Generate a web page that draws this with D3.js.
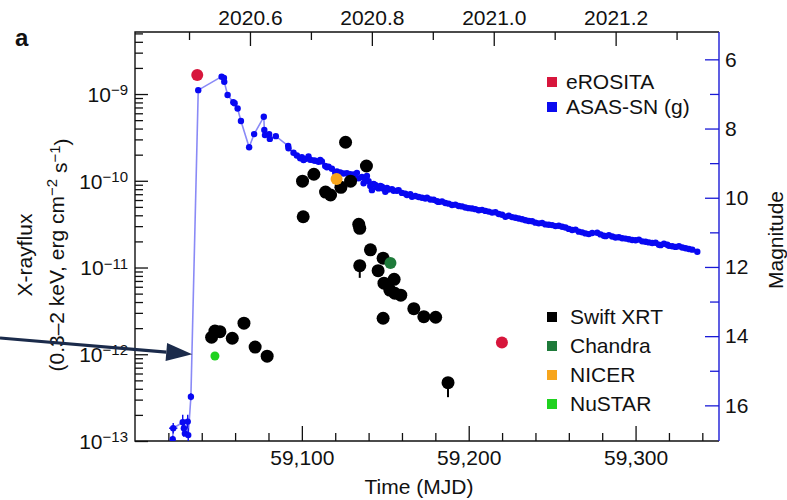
<!DOCTYPE html>
<html><head><meta charset="utf-8">
<script src="https://cdn.jsdelivr.net/npm/d3@7"></script>
<style>
body{margin:0;background:#fff}
text{font-family:"Liberation Sans", Arial, Helvetica, sans-serif;fill:#111}
</style>
</head><body>
<svg id="chart" width="787" height="500"></svg>
<script>
// ---------------- DATA ----------------
// ASAS-SN g-band light curve: [MJD, magnitude]
const asassn = [
 [59022.6,16.98],[59022.9,16.66],[59028.6,16.49],[59029.3,16.66],[59029.9,16.81],[59031.6,16.47],[59031.9,16.86],[59033.5,15.75],
 [59037.9,6.89],[59051.9,6.50],[59053.3,6.54],[59053.5,6.65],[59055.5,7.03],[59058.9,7.24],[59059.7,7.27],[59061.5,7.42],
 [59063.5,7.78],[59068.4,8.54],[59071.4,8.16],[59077.2,7.66],[59077.5,8.04],[59077.9,8.19],[59080.4,8.16],[59080.8,8.30],
 [59084.4,8.22],[59091.8,8.50],[59092.0,8.57],[59095,8.70],[59097,8.78],[59099,8.86],[59100,8.83],[59101,8.91],[59102,8.88],
 [59104,8.81],[59105,8.90],[59107,8.92],[59108,8.93],[59110,8.96],[59111,8.91],[59112,8.95],[59114,9.08],[59115,9.12],
 [59116,9.10],[59118,9.16],[59120,9.28],[59121,9.24],[59123,9.27],[59125,9.30],[59127,9.29],[59129,9.32],[59130,9.36],
 [59131,9.33],[59133,9.28],[59134,9.44],[59136,9.40],[59137,9.58],[59138,9.46],[59139,9.37],[59140,9.52],[59141,9.66],
 [59142,9.78],[59143,9.60],[59144,9.63],[59145,9.70],[59146,9.73],[59147,9.66],[59148,9.68],[59149,9.74],[59150,9.83],
 [59151,9.72],[59152,9.76],[59154,9.75],[59155,9.80],[59157,9.80],[59158,9.78],[59160,9.86],[59162,9.88],[59163,9.92],
 [59165,9.90],[59166,9.97],[59168,9.95],[59170,9.98],[59172,10.00],[59174,10.02],[59175,10.00],[59177,10.05],[59179,10.06],
 [59181,10.10],[59182,10.12],[59184,10.11],[59186,10.15],[59188,10.17],[59190,10.21],[59192,10.20],[59194,10.24],[59196,10.25],
 [59198,10.28],[59200,10.30],[59202,10.31],[59204,10.33],[59206,10.36],[59208,10.35],[59210,10.38],[59212,10.40],[59214,10.43],
 [59216,10.42],[59218,10.47],[59220,10.49],[59222,10.55],[59224,10.52],[59226,10.56],[59228,10.58],[59230,10.60],[59232,10.62],
 [59234,10.65],[59236,10.67],[59238,10.68],[59240,10.72],[59242,10.74],[59244,10.73],[59246,10.77],[59248,10.78],[59250,10.79],
 [59252,10.82],[59254,10.81],[59256,10.84],[59258,10.86],[59260,10.90],[59262,10.93],[59264,10.92],[59266,10.98],[59268,11.00],
 [59270,11.03],[59272,11.05],[59274,11.02],[59277,11.01],[59279,11.06],[59281,11.10],[59282,11.11],[59284,11.08],[59286,11.12],
 [59288,11.15],[59290,11.14],[59292,11.17],[59294,11.18],[59296,11.20],[59298,11.22],[59300,11.23],[59302,11.21],[59304,11.26],
 [59306,11.27],[59308,11.29],[59310,11.31],[59312,11.30],[59314,11.36],[59315,11.37],[59317,11.33],[59319,11.36],[59320,11.39],
 [59322,11.40],[59324,11.42],[59326,11.40],[59328,11.44],[59330,11.46],[59332,11.48],[59334,11.50],[59337,11.56]
];
// early ASAS-SN error bars: [MJD, mag, MJD error, mag error]
const asassnErr = [[59022.9,16.66,2.5,0.15],[59022.6,16.98,0,0.1],[59028.6,16.49,0,0.22],[59029.3,16.66,0,0.25],
 [59031.6,16.47,0,0.2],[59031.9,16.86,0,0.2],[59033.5,15.75,0,0.1]];

// X-ray fluxes: [MJD, flux erg/cm2/s]
const swiftXRT = [
 [59045.9,1.57e-12],[59047.9,1.85e-12],[59050.9,1.82e-12],[59058.3,1.53e-12],[59065.3,2.28e-12],[59072.0,1.21e-12],
 [59079.2,9.5e-13],[59100.4,9.9e-11],[59100.8,3.85e-11],[59107.2,1.19e-10],[59114.2,7.4e-11],[59117.2,6.85e-11],
 [59123.4,8.4e-11],[59126.2,2.78e-10],[59129.2,9.9e-11],[59134.1,3.15e-11],[59134.7,2.83e-11],[59134.7,1.05e-11],
 [59138.7,1.48e-10],[59141.1,1.6e-11],[59145.7,9.2e-12],[59148.7,1.28e-11],[59149.2,6.6e-12],[59152.7,5.5e-12],
 [59155.3,7.3e-12],[59155.7,5.05e-12],[59159.3,4.8e-12],[59148.7,2.6e-12],[59167.1,3.35e-12],[59173.1,2.71e-12],
 [59180.2,2.67e-12],[59187.6,4.7e-13]
];
// Swift points with lower error bars: [MJD, flux, lower flux]
const swiftErr = [[59134.7,1.05e-11,7.6e-12],[59187.6,4.7e-13,3.2e-13]];
const erosita = [[59037.3,1.66e-9],[59219.9,1.37e-12]];
const chandra = [[59153.1,1.13e-11]];
const nicer = [[59120.8,1.05e-10]];
const nustar = [[59047.9,9.55e-13]];

// axes ticks
const fluxExps = [-13,-12,-11,-10,-9];
const magTicks = [6,8,10,12,14,16];
const magMinor = [7,9,11,13,15];
const mjdTicks = [59100,59200,59300];
const mjdMinor = [59020,59040,59060,59080,59120,59140,59160,59180,59220,59240,59260,59280,59320,59340];
const yearTicks = [2020.6,2020.8,2021.0,2021.2];
const yearMinor = [2020.5,2020.7,2020.9,2021.1,2021.3];

const legend1 = [["eROSITA","#d7163c"],["ASAS-SN (g)","#0b0bef"]];
const legend2 = [["Swift XRT","#000000"],["Chandra","#1e7a3a"],["NICER","#f7a51c"],["NuSTAR","#1fd21f"]];

// ---------------- CHART ----------------
const svg = d3.select("#chart");
const L=135, R=719, T=32, B=441;
const mjdDomain=[59000,59350];
const x = d3.scaleLinear().domain(mjdDomain).range([L,R]);
const y = d3.scaleLog().domain([1e-13,5.19e-9]).range([B,T]);
const yMag = d3.scaleLinear().domain([17.03,5.21]).range([B,T]);
const yearOf = m => 2021 + (m-59215)/365.25;
const xYear = d3.scaleLinear().domain(mjdDomain.map(yearOf)).range([L,R]);

const blue="#1a1ad6";
const fs=21;

// minor left ticks
const fluxMinor=[];
fluxExps.forEach(e=>{for(let k=2;k<=9;k++){const v=k*Math.pow(10,e); if(v<=5.19e-9) fluxMinor.push(v);}});

function styleAxis(g,color){
  g.select(".domain").remove();
  g.selectAll(".tick line").attr("stroke",color).attr("stroke-width",1.3);
  g.selectAll(".tick text").style("font-size",fs+"px").attr("fill","#111");
}

// bottom axis
const gb=svg.append("g").attr("transform",`translate(0,${B})`)
  .call(d3.axisBottom(x).tickValues(mjdTicks).tickFormat(d3.format(",")).tickSizeInner(-15).tickSizeOuter(0).tickPadding(9));
styleAxis(gb,"#111");
const gbm=svg.append("g").attr("transform",`translate(0,${B})`)
  .call(d3.axisBottom(x).tickValues(mjdMinor).tickFormat("").tickSizeInner(-8).tickSizeOuter(0));
styleAxis(gbm,"#111");

// top axis
const gt=svg.append("g").attr("transform",`translate(0,${T})`)
  .call(d3.axisTop(xYear).tickValues(yearTicks).tickFormat(d3.format(".1f")).tickSizeInner(-14).tickSizeOuter(0).tickPadding(7));
styleAxis(gt,"#111");
const gtm=svg.append("g").attr("transform",`translate(0,${T})`)
  .call(d3.axisTop(xYear).tickValues(yearMinor).tickFormat("").tickSizeInner(-8).tickSizeOuter(0));
styleAxis(gtm,"#111");

// left axis
const gl=svg.append("g").attr("transform",`translate(${L},0)`)
  .call(d3.axisLeft(y).tickValues(fluxExps.map(e=>Math.pow(10,e))).tickFormat("").tickSizeInner(-13).tickSizeOuter(0).tickPadding(7));
styleAxis(gl,"#111");
gl.selectAll(".tick text").each(function(d){
  const t=d3.select(this); const e=Math.round(Math.log10(d));
  t.text(null).attr("dy","0.35em");
  t.append("tspan").text("10");
  t.append("tspan").attr("dy","-0.45em").style("font-size","15px").text("\u2212"+(-e));
});
const glm=svg.append("g").attr("transform",`translate(${L},0)`)
  .call(d3.axisLeft(y).tickValues(fluxMinor).tickFormat("").tickSizeInner(-8).tickSizeOuter(0));
styleAxis(glm,"#111");

// right axis (magnitude)
const gr=svg.append("g").attr("transform",`translate(${R},0)`)
  .call(d3.axisRight(yMag).tickValues(magTicks).tickFormat(d3.format("d")).tickSizeInner(-14).tickSizeOuter(0).tickPadding(6));
styleAxis(gr,blue);
const grm=svg.append("g").attr("transform",`translate(${R},0)`)
  .call(d3.axisRight(yMag).tickValues(magMinor).tickFormat("").tickSizeInner(-9).tickSizeOuter(0));
styleAxis(grm,blue);

// frame
svg.append("path").attr("d",`M${R},${T}H${L}V${B}H${R}`).attr("fill","none").attr("stroke","#111").attr("stroke-width",1.4);
svg.append("line").attr("x1",R).attr("x2",R).attr("y1",T).attr("y2",B).attr("stroke",blue).attr("stroke-width",1.4);

// plot area clip
svg.append("clipPath").attr("id","clip").append("rect").attr("x",L).attr("y",T).attr("width",R-L).attr("height",B-T);
const plot=svg.append("g").attr("clip-path","url(#clip)");

// ASAS-SN line
plot.append("path").datum(asassn)
  .attr("d",d3.line().x(d=>x(d[0])).y(d=>yMag(d[1])))
  .attr("fill","none").attr("stroke","#7d7df5").attr("stroke-width",1.6).attr("opacity",0.9);
// early error bars
const eb=plot.append("g").attr("stroke","#0b0bef").attr("stroke-width",1.4);
asassnErr.forEach(d=>{
  if(d[3]>0) eb.append("line").attr("x1",x(d[0])).attr("x2",x(d[0])).attr("y1",yMag(d[1]-d[3])).attr("y2",yMag(d[1]+d[3]));
  if(d[2]>0) eb.append("line").attr("x1",x(d[0]-d[2])).attr("x2",x(d[0]+d[2])).attr("y1",yMag(d[1])).attr("y2",yMag(d[1]));
});
plot.append("g").selectAll("circle").data(asassn).join("circle")
  .attr("cx",d=>x(d[0])).attr("cy",d=>yMag(d[1])).attr("r",3.2).attr("fill","#0808f2");

// Swift XRT
const se=plot.append("g").attr("stroke","#000").attr("stroke-width",2);
swiftErr.forEach(d=>se.append("line").attr("x1",x(d[0])).attr("x2",x(d[0])).attr("y1",y(d[1])).attr("y2",y(d[2])));
plot.append("g").selectAll("circle").data(swiftXRT).join("circle")
  .attr("cx",d=>x(d[0])).attr("cy",d=>y(d[1])).attr("r",6.5).attr("fill","#000");

function pts(data,color,r){
  plot.append("g").selectAll("circle").data(data).join("circle")
    .attr("cx",d=>x(d[0])).attr("cy",d=>y(d[1])).attr("r",r).attr("fill",color);
}
pts(nicer,"#f7a51c",6);
pts(chandra,"#1e7a3a",6);
pts(nustar,"#1fd21f",4.5);
pts(erosita,"#d7163c",6);

// legends
function legend(items,x0,yc0,step,tx){
  items.forEach((it,i)=>{
    const yc=yc0+i*step;
    svg.append("rect").attr("x",x0).attr("y",yc-5).attr("width",10).attr("height",10).attr("fill",it[1]);
    svg.append("text").attr("x",tx).attr("y",yc+7).style("font-size",fs+"px").text(it[0]);
  });
}
legend(legend1,547,82,25,566);
legend(legend2,547,317,29,570);

// axis titles
svg.append("text").attr("x",(x(59000)+x(59350))/2 - 8).attr("y",494).attr("text-anchor","middle").style("font-size",fs+"px").text("Time (MJD)");
svg.append("text").attr("transform","translate(783,240) rotate(-90)").attr("text-anchor","middle").style("font-size",fs+"px").text("Magnitude");
svg.append("text").attr("transform","translate(32,255) rotate(-90)").attr("text-anchor","middle").style("font-size","21px").text("X-rayflux");
const t2=svg.append("text").attr("transform","translate(64,255) rotate(-90)").attr("text-anchor","middle").style("font-size","21px");
t2.append("tspan").text("(0.3\u20132 keV, erg cm");
t2.append("tspan").attr("dy","-0.45em").style("font-size","15px").text("\u22122");
t2.append("tspan").attr("dy","0.45em").text(" s");
t2.append("tspan").attr("dy","-0.45em").style("font-size","15px").text("\u22121");
t2.append("tspan").attr("dy","0.45em").text(")");

// panel label
svg.append("text").attr("x",15).attr("y",46).style("font-size","24px").style("font-weight","bold").text("a");

// arrow annotation pointing at the rise (MJD ~59034, 1e-12)
const tipX=x(59034.3), tipY=y(1e-12), sx=0, sy=338;
const ang=Math.atan2(tipY-sy,tipX-sx), hl=26, hw=9;
const bx=tipX-hl*Math.cos(ang), by=tipY-hl*Math.sin(ang);
svg.append("line").attr("x1",sx).attr("y1",sy).attr("x2",bx).attr("y2",by).attr("stroke","#1b2b4b").attr("stroke-width",3.2);
svg.append("path").attr("d",`M${tipX},${tipY}L${bx+hw*Math.sin(ang)},${by-hw*Math.cos(ang)}L${bx-hw*Math.sin(ang)},${by+hw*Math.cos(ang)}Z`).attr("fill","#1b2b4b");
</script>
</body></html>
